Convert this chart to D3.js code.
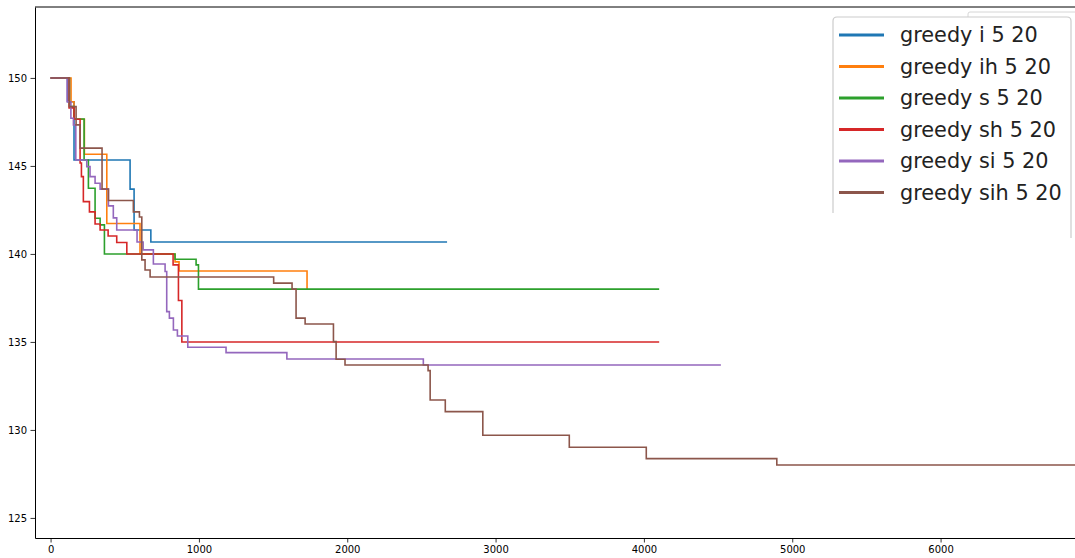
<!DOCTYPE html>
<html>
<head>
<meta charset="utf-8">
<script src="https://cdn.jsdelivr.net/npm/d3@7"></script>
<style>
  html, body { margin: 0; padding: 0; background: #fff; }
  svg { display: block; font-family: "DejaVu Sans", sans-serif; }
</style>
</head>
<body>
<svg id="chart" width="1075" height="558"></svg>
<script>
// Best objective value found so far, against elapsed evaluations, for each greedy variant.
const seriesNames = ["greedy i 5 20", "greedy ih 5 20", "greedy s 5 20", "greedy sh 5 20", "greedy si 5 20", "greedy sih 5 20"];
const seriesColors = ["#1f77b4", "#ff7f0e", "#2ca02c", "#d62728", "#9467bd", "#8c564b"];

const iX = [0, 116, 158, 536, 563, 676, 2673];
const iY = [150, 148.65, 145.34, 143.68, 141.36, 140.68, 140.68];

const ihX = [0, 138, 158, 228, 379, 603, 839, 866, 1729, 1735];
const ihY = [150, 148.65, 147.65, 145.66, 141.73, 140, 139.55, 139.03, 138, 138];

const sX = [0, 127, 158, 226, 255, 300, 334, 363, 839, 981, 997, 4103];
const sY = [150, 148.37, 147.67, 145.34, 143.73, 142.03, 141.65, 140, 139.7, 139.38, 138, 138];

const shX = [0, 125, 158, 199, 208, 221, 262, 300, 334, 388, 446, 514, 826, 862, 885, 4103];
const shY = [150, 148.3, 147.65, 145.17, 144.39, 142.97, 142.39, 141.7, 141.36, 141.02, 140.65, 140, 139.38, 137.35, 135, 135];

const siX = [0, 111, 137, 154, 170, 244, 266, 300, 334, 390, 423, 446, 583, 624, 693, 772, 783, 801, 828, 855, 925, 1183, 1593, 2513, 4519];
const siY = [150, 148.65, 147.71, 147.33, 145.34, 144.96, 144.39, 144.02, 143.68, 142.73, 142.05, 141.36, 140.68, 140.23, 139.43, 139.0, 136.72, 136.35, 135.68, 135.34, 134.7, 134.39, 134.03, 133.69, 133.69];

const sihX = [0, 127, 172, 199, 347, 390, 558, 599, 615, 637, 671, 1504, 1628, 1655, 1716, 1907, 1925, 1985, 2545, 2559, 2661, 2914, 3497, 4016, 4896, 6940];
const sihY = [150, 148.37, 147.33, 146.01, 143.69, 143.04, 142.39, 142.1, 139.66, 139.09, 138.69, 138.34, 138.0, 136.35, 136.02, 135.02, 134.02, 133.69, 133.37, 131.7, 131.04, 129.7, 129.02, 128.37, 128.01, 128.01];

const xTicks = [0, 1000, 2000, 3000, 4000, 5000, 6000];
const yTicks = [125, 130, 135, 140, 145, 150];

const seriesX = [iX, ihX, sX, shX, siX, sihX];
const seriesY = [iY, ihY, sY, shY, siY, sihY];

const svg = d3.select("#chart");
const plot = { left: 35, top: 7, right: 1080, bottom: 538 };

const x = d3.scaleLinear().domain([-105, 6940]).range([plot.left, plot.right]);
const y = d3.scaleLinear().domain([123.86, 154.03]).range([plot.bottom, plot.top]);

svg.append("rect").attr("width", 1075).attr("height", 558).attr("fill", "#fff");

svg.append("clipPath").attr("id", "plotClip")
  .append("rect")
  .attr("x", plot.left).attr("y", plot.top)
  .attr("width", plot.right - plot.left).attr("height", plot.bottom - plot.top);

const line = d3.line()
  .x(d => x(d[0]))
  .y(d => y(d[1]))
  .curve(d3.curveStepAfter);

const lines = svg.append("g").attr("clip-path", "url(#plotClip)");
seriesNames.forEach((name, k) => {
  const pts = seriesX[k].map((v, j) => [v, seriesY[k][j]]);
  lines.append("path")
    .datum(pts)
    .attr("fill", "none")
    .attr("stroke", seriesColors[k])
    .attr("stroke-width", 1.6)
    .attr("stroke-linejoin", "miter")
    .attr("d", line);
});

// Axes
const xAxis = svg.append("g")
  .attr("transform", `translate(0,${plot.bottom})`)
  .call(d3.axisBottom(x).tickValues(xTicks).tickFormat(d3.format("d")).tickSize(4.5).tickSizeOuter(0).tickPadding(3.5));
const yAxis = svg.append("g")
  .attr("transform", `translate(${plot.left},0)`)
  .call(d3.axisLeft(y).tickValues(yTicks).tickFormat(d3.format("d")).tickSize(4.5).tickSizeOuter(0).tickPadding(3.5));
[xAxis, yAxis].forEach(a => {
  a.selectAll("text").attr("font-size", 10).attr("fill", "#000").attr("font-family", "DejaVu Sans, sans-serif");
  a.selectAll("line").attr("stroke", "#000").attr("stroke-width", 0.8);
  a.select(".domain").attr("stroke", "#000").attr("stroke-width", 1);
});

// Top spine
svg.append("line")
  .attr("x1", plot.left).attr("x2", 1075)
  .attr("y1", plot.top).attr("y2", plot.top)
  .attr("stroke", "#000").attr("stroke-width", 1);

// Legend: edge of a frame tucked behind the main one, then the main frame
const legendG = svg.append("g");
legendG.append("path")
  .attr("d", "M968,18 V14 Q968,12 970,12 H1075")
  .attr("fill", "none").attr("stroke", "#d6d6d6").attr("stroke-width", 1);
legendG.append("path")
  .attr("d", "M833,213 V21 Q833,17 837,17 H1067 Q1071,17 1071,21 V238")
  .attr("fill", "#fff").attr("stroke", "#cccccc").attr("stroke-width", 1.2);

const legendTop = 35, legendStep = 31.5;
seriesNames.forEach((name, k) => {
  const cy = legendTop + k * legendStep;
  legendG.append("line")
    .attr("x1", 839).attr("x2", 884)
    .attr("y1", cy).attr("y2", cy)
    .attr("stroke", seriesColors[k]).attr("stroke-width", 3);
  legendG.append("text")
    .attr("x", 900).attr("y", cy)
    .attr("dy", "0.35em")
    .attr("font-size", 20.8)
    .attr("fill", "#222")
    .text(name);
});
</script>
</body>
</html>
